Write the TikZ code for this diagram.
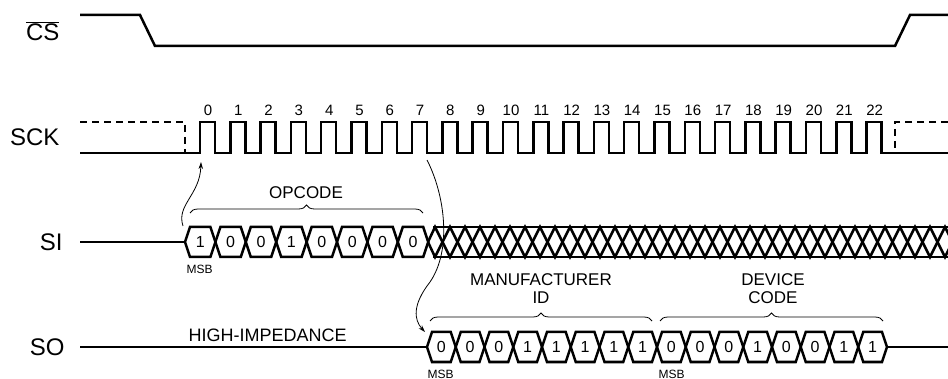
\documentclass[tikz,border=0pt]{standalone}
\usepackage{fontspec}
\setmainfont{Liberation Sans}
\usetikzlibrary{arrows.meta,decorations.pathreplacing,positioning}

\begin{document}
\begin{tikzpicture}[x=1pt,y=-1pt,
    wave/.style={line width=2.5pt,line join=miter},
    sig label/.style={anchor=east,font=\fontsize{24}{24}\selectfont},
    bit label/.style={font=\fontsize{16}{16}\selectfont},
    clk label/.style={font=\fontsize{15}{15}\selectfont},
    msb label/.style={anchor=west,font=\fontsize{12}{12}\selectfont},
    field label/.style={align=center,font=\fontsize{17}{18}\selectfont},
    field brace/.style={decorate,decoration={brace,amplitude=8pt},line width=0.8pt},
    cause/.style={-{Stealth[length=7pt,width=4.5pt]},line width=0.8pt}]

  \useasboundingbox (0,0) rectangle (948,379);

  % signal names
  \node[sig label] (cs) at (63,31) {$\overline{\mbox{CS}}$};
  \node[sig label] (sck) at (63,137) {SCK};
  \node[sig label] (si) at (66,242) {SI};
  \node[sig label] (so) at (68,347) {SO};

  % chip select
  \draw[wave] (80,15) -- (140,15) -- (155,46) -- (895,46) -- (910,15) -- (948,15);

  % clock
  \draw[wave,dash pattern=on 7pt off 5pt] (80,122) -- (185,122) -- (185,153);
  \draw[wave,dash pattern=on 7pt off 5pt] (948,122) -- (895,122) -- (895,153);
  \draw[wave] (80,153)
    \foreach \k in {0,...,22} {
      -- ({200+30.3*\k},153) -- ({200+30.3*\k},122)
      -- ({215+30.3*\k},122) -- ({215+30.3*\k},153)
    } -- (948,153);
  \foreach \k in {0,...,22}
    \node[clk label] (n\k) at ({208+30.3*\k},110) {\k};

  % serial in
  \draw[wave] (80,242) -- (185,242);
  \foreach \b [count=\i from 0] in {1,0,0,1,0,0,0,0} {
    \pgfmathsetmacro{\xa}{185+30.4*\i}
    \pgfmathsetmacro{\xb}{\xa+30.4}
    \draw[wave] (\xa,242) -- (\xa+5,227) -- (\xb-5,227) -- (\xb,242)
      -- (\xb-5,257) -- (\xa+5,257) -- cycle;
    \node[bit label] (si\i) at ({(\xa+\xb)/2},242) {\b};
  }
  \draw[wave] (433,227) -- (948,227) (433,257) -- (948,257);
  \begin{scope}
    \clip (428,215) rectangle (948,270);
    \draw[wave] (428,242) -- (435,227)
      \foreach \j in {0,...,17} { -- ({450+30*\j},257) -- ({465+30*\j},227) };
    \draw[wave] (428,242) -- (435,257)
      \foreach \j in {0,...,17} { -- ({450+30*\j},227) -- ({465+30*\j},257) };
  \end{scope}

  % serial out
  \draw[wave] (80,347) -- (427,347);
  \foreach \b [count=\i from 0] in {0,0,0,1,1,1,1,1,0,0,0,1,0,0,1,1} {
    \pgfmathsetmacro{\xa}{427+28.75*\i}
    \pgfmathsetmacro{\xb}{\xa+28.75}
    \draw[wave] (\xa,347) -- (\xa+5,332) -- (\xb-5,332) -- (\xb,347)
      -- (\xb-5,362) -- (\xa+5,362) -- cycle;
    \node[bit label] (so\i) at ({(\xa+\xb)/2},347) {\b};
  }
  \draw[wave] (887,347) -- (948,347);

  % fields
  \draw[field brace] (190,213) -- (423,213);
  \node[field label] (opcode) at (306,193) {OPCODE};
  \draw[field brace] (430,321) -- (652,321);
  \node[field label] (manid) at (541,289) {MANUFACTURER\\ID};
  \draw[field brace] (660,321) -- (883,321);
  \node[field label] (devcode) at (773,289) {DEVICE\\CODE};
  \node[field label,anchor=west,font=\fontsize{18}{18}\selectfont] (hiz) at (185,335) {HIGH-IMPEDANCE};

  \node[msb label] (msb si) at (183,269) {MSB};
  \node[msb label] (msb so) at (424,374) {MSB};
  \node[msb label] (msb dev) at (655,374) {MSB};

  % edges
  \coordinate (si start) at (183,226);
  \coordinate (sck edge0) at (201,162);
  \coordinate (sck edge7) at (427,160);
  \coordinate (so start) at (425,332);
  \draw[cause] (si start) .. controls (176,205) and (200,195) .. (sck edge0);
  \draw[cause] (sck edge7) .. controls (445,195) and (452,250) .. (430,282)
    .. controls (412,305) and (414,320) .. (so start);

\end{tikzpicture}
\end{document}
